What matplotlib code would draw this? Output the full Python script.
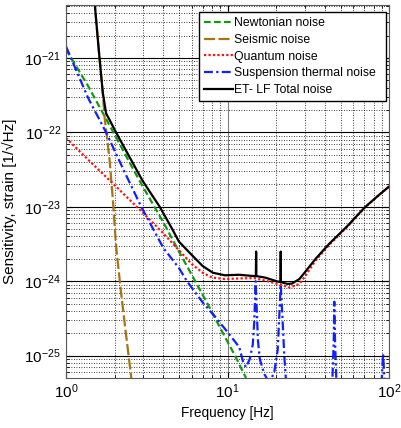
import matplotlib
matplotlib.use('Agg')
import matplotlib.pyplot as plt
from matplotlib.ticker import LogLocator, NullFormatter

plt.rcParams['font.family'] = ['Liberation Sans', 'DejaVu Sans']
plt.rcParams['mathtext.fontset'] = 'custom'
plt.rcParams['mathtext.rm'] = 'Liberation Sans'
plt.rcParams['mathtext.it'] = 'Liberation Sans:italic'

# Newtonian noise
f_newton = [1.0, 1.37, 2.0, 2.48, 2.99, 4.0, 5.0, 6.3, 7.5, 9.6, 11.1, 13.0]
h_newton = [1.3e-21, 4.2e-22, 9.3e-23, 3.9e-23, 1.86e-23, 6.2e-24, 2.5e-24, 1.0e-24, 5.0e-25, 1.8e-25, 1.0e-25, 5.0e-26]

# Seismic noise
f_seis = [1.45, 1.51, 1.56, 1.615, 1.69, 1.73, 1.86, 1.95, 2.04, 2.19, 2.36, 2.53, 2.6]
h_seis = [2e-20, 5e-21, 2.2e-21, 9.5e-22, 3.2e-22, 1.64e-22, 4.3e-23, 1.24e-23, 3.0e-24, 7.0e-25, 1.8e-25, 5.2e-26, 3e-26]

# Quantum noise
f_quant = [1.0, 1.37, 2.0, 2.99, 4.0, 5.0, 6.0, 7.0, 8.0, 9.6, 12.0, 14.6, 17.0,
           20.4, 24.2, 27.8, 30.0, 35.0, 42.6, 55.0, 70.1, 85.0, 100.0]
h_quant = [8.4e-23, 4.3e-23, 1.95e-23, 8.3e-24, 4.4e-24, 2.6e-24, 1.7e-24, 1.3e-24, 1.12e-24, 1.07e-24, 1.09e-24, 1.1e-24, 1.02e-24,
           9.2e-25, 8.2e-25, 9.2e-25, 1.15e-24, 1.9e-24, 3.1e-24, 5.4e-24, 9.6e-24, 1.4e-23, 1.88e-23]

# Suspension thermal noise
f_susp = [1.0, 1.37, 1.77, 2.3, 2.92, 4.0, 5.0, 5.6, 7.0, 8.5, 10.3, 11.8, 12.5, 13.0, 13.7, 14.3,
          14.6, 14.9, 15.1, 15.4, 15.8, 16.9, 17.6, 18.5, 19.4, 20.4, 21.0, 21.3, 21.9, 22.4, 22.9, 24.0,
          44.0, 44.5, 45.3, 45.7, 46.2, 47.0, 47.6,
          89.0, 89.9, 91.5, 93.3, 94.0]
h_susp = [1.43e-21, 2.9e-22, 1.0e-22, 2.95e-23, 1.0e-23, 2.8e-24, 1.5e-24, 1.0e-24, 5.2e-25, 3.2e-25, 1.9e-25, 1.3e-25, 8e-26, 7e-26, 9e-26, 1.4e-25,
          2.8e-25, 1.0e-24, 4.7e-25, 1.6e-25, 9e-26, 5.6e-26, 4.8e-26, 4.8e-26, 5.9e-26, 1.2e-25, 4.6e-25, 9e-25, 2.8e-25, 1e-25, 5e-26, 2e-26,
          2e-26, 5e-26, 1.5e-25, 5.3e-25, 1.5e-25, 5e-26, 2e-26,
          2e-26, 5e-26, 1.05e-25, 5e-26, 2e-26]

# ET-LF total noise
f_total = [1.45, 1.51, 1.56, 1.615, 1.69, 1.77, 1.9, 2.0, 2.48, 2.99, 3.8, 4.5, 5.0, 5.83, 7.0, 8.1, 9.6, 11.8,
           14.0, 14.95, 15.0, 15.05, 17.0, 20.4, 21.25, 21.3, 21.35, 23.5, 25.0, 27.8, 29.9, 35.0, 42.6, 55.0, 70.1, 85.0, 100.0]
h_total = [1.2e-20, 5e-21, 2.2e-21, 9.5e-22, 3.4e-22, 1.8e-22, 1.35e-22, 1.08e-22, 4.6e-23, 2.2e-23, 1.0e-23, 5.2e-24, 3.4e-24, 2.4e-24, 1.6e-24, 1.3e-24, 1.2e-24, 1.22e-24,
           1.18e-24, 1.17e-24, 2.5e-24, 1.17e-24, 1.12e-24, 9.9e-25, 9.7e-25, 2.5e-24, 9.7e-25, 9.2e-25, 9.3e-25, 1.07e-24, 1.3e-24, 2.0e-24, 3.2e-24, 5.5e-24, 9.7e-24, 1.4e-23, 1.88e-23]

y_major = [1e-25, 1e-24, 1e-23, 1e-22, 1e-21]
x_major = [1, 10, 100]

fig = plt.figure(figsize=(4.01, 4.28), dpi=100)
ax = fig.add_axes([0.1646, 0.1168, 0.8062, 0.8708])

ax.plot(f_newton, h_newton, color='#119911', linestyle=(0, (3, 1.5)), linewidth=1.6, label='Newtonian noise')
ax.plot(f_seis, h_seis, color='#a87412', linestyle=(0, (5, 1.5)), linewidth=1.6, label='Seismic noise')
ax.plot(f_quant, h_quant, color='#ff1010', linestyle=(0, (1, 1)), linewidth=1.6, label='Quantum noise')
ax.plot(f_susp, h_susp, color='#1020ff', linestyle=(0, (4, 1.5, 1, 1.5)), linewidth=1.6, label='Suspension thermal noise')
ax.plot(f_total, h_total, color='black', linestyle='-', linewidth=1.6, label='ET- LF Total noise')

ax.set_xscale('log')
ax.set_yscale('log')

ax.set_xticks(x_major)
ax.set_yticks(y_major)
ax.yaxis.set_minor_locator(LogLocator(base=10, subs=range(2, 10), numticks=20))
ax.yaxis.set_minor_formatter(NullFormatter())
ax.xaxis.set_minor_formatter(NullFormatter())
ax.set_xlim(1, 100)
ax.set_ylim(5e-26, 5.1e-21)

ax.grid(True, which='minor', linestyle=(0, (1, 2)), color='black', linewidth=0.6)
ax.grid(True, which='major', axis='y', linestyle='-', color='black', linewidth=0.8)
ax.grid(True, which='major', axis='x', linestyle='-', color='0.5', linewidth=0.8)

ax.tick_params(which='both', direction='in', top=True, right=True, labelsize=11)
ax.tick_params(which='major', length=4)
ax.tick_params(which='minor', length=2)
for s in ax.spines.values():
    s.set_color('0.35')

ax.set_xlabel('Frequency [Hz]', fontsize=9.8, labelpad=3)
ax.set_ylabel('Sensitivity, strain [1/\u221aHz]', fontsize=11)
ax.yaxis.set_label_coords(-0.152, 0.475)

ax.legend(loc='upper left', bbox_to_anchor=(0.411, 0.0, 0.579, 0.981), mode='expand', borderaxespad=0,
          fontsize=8.8, frameon=True, fancybox=False, edgecolor='black', framealpha=1,
          handlelength=2.4, handletextpad=0.1, labelspacing=0.38, borderpad=0.4)

fig.savefig('out.png', dpi=100)
